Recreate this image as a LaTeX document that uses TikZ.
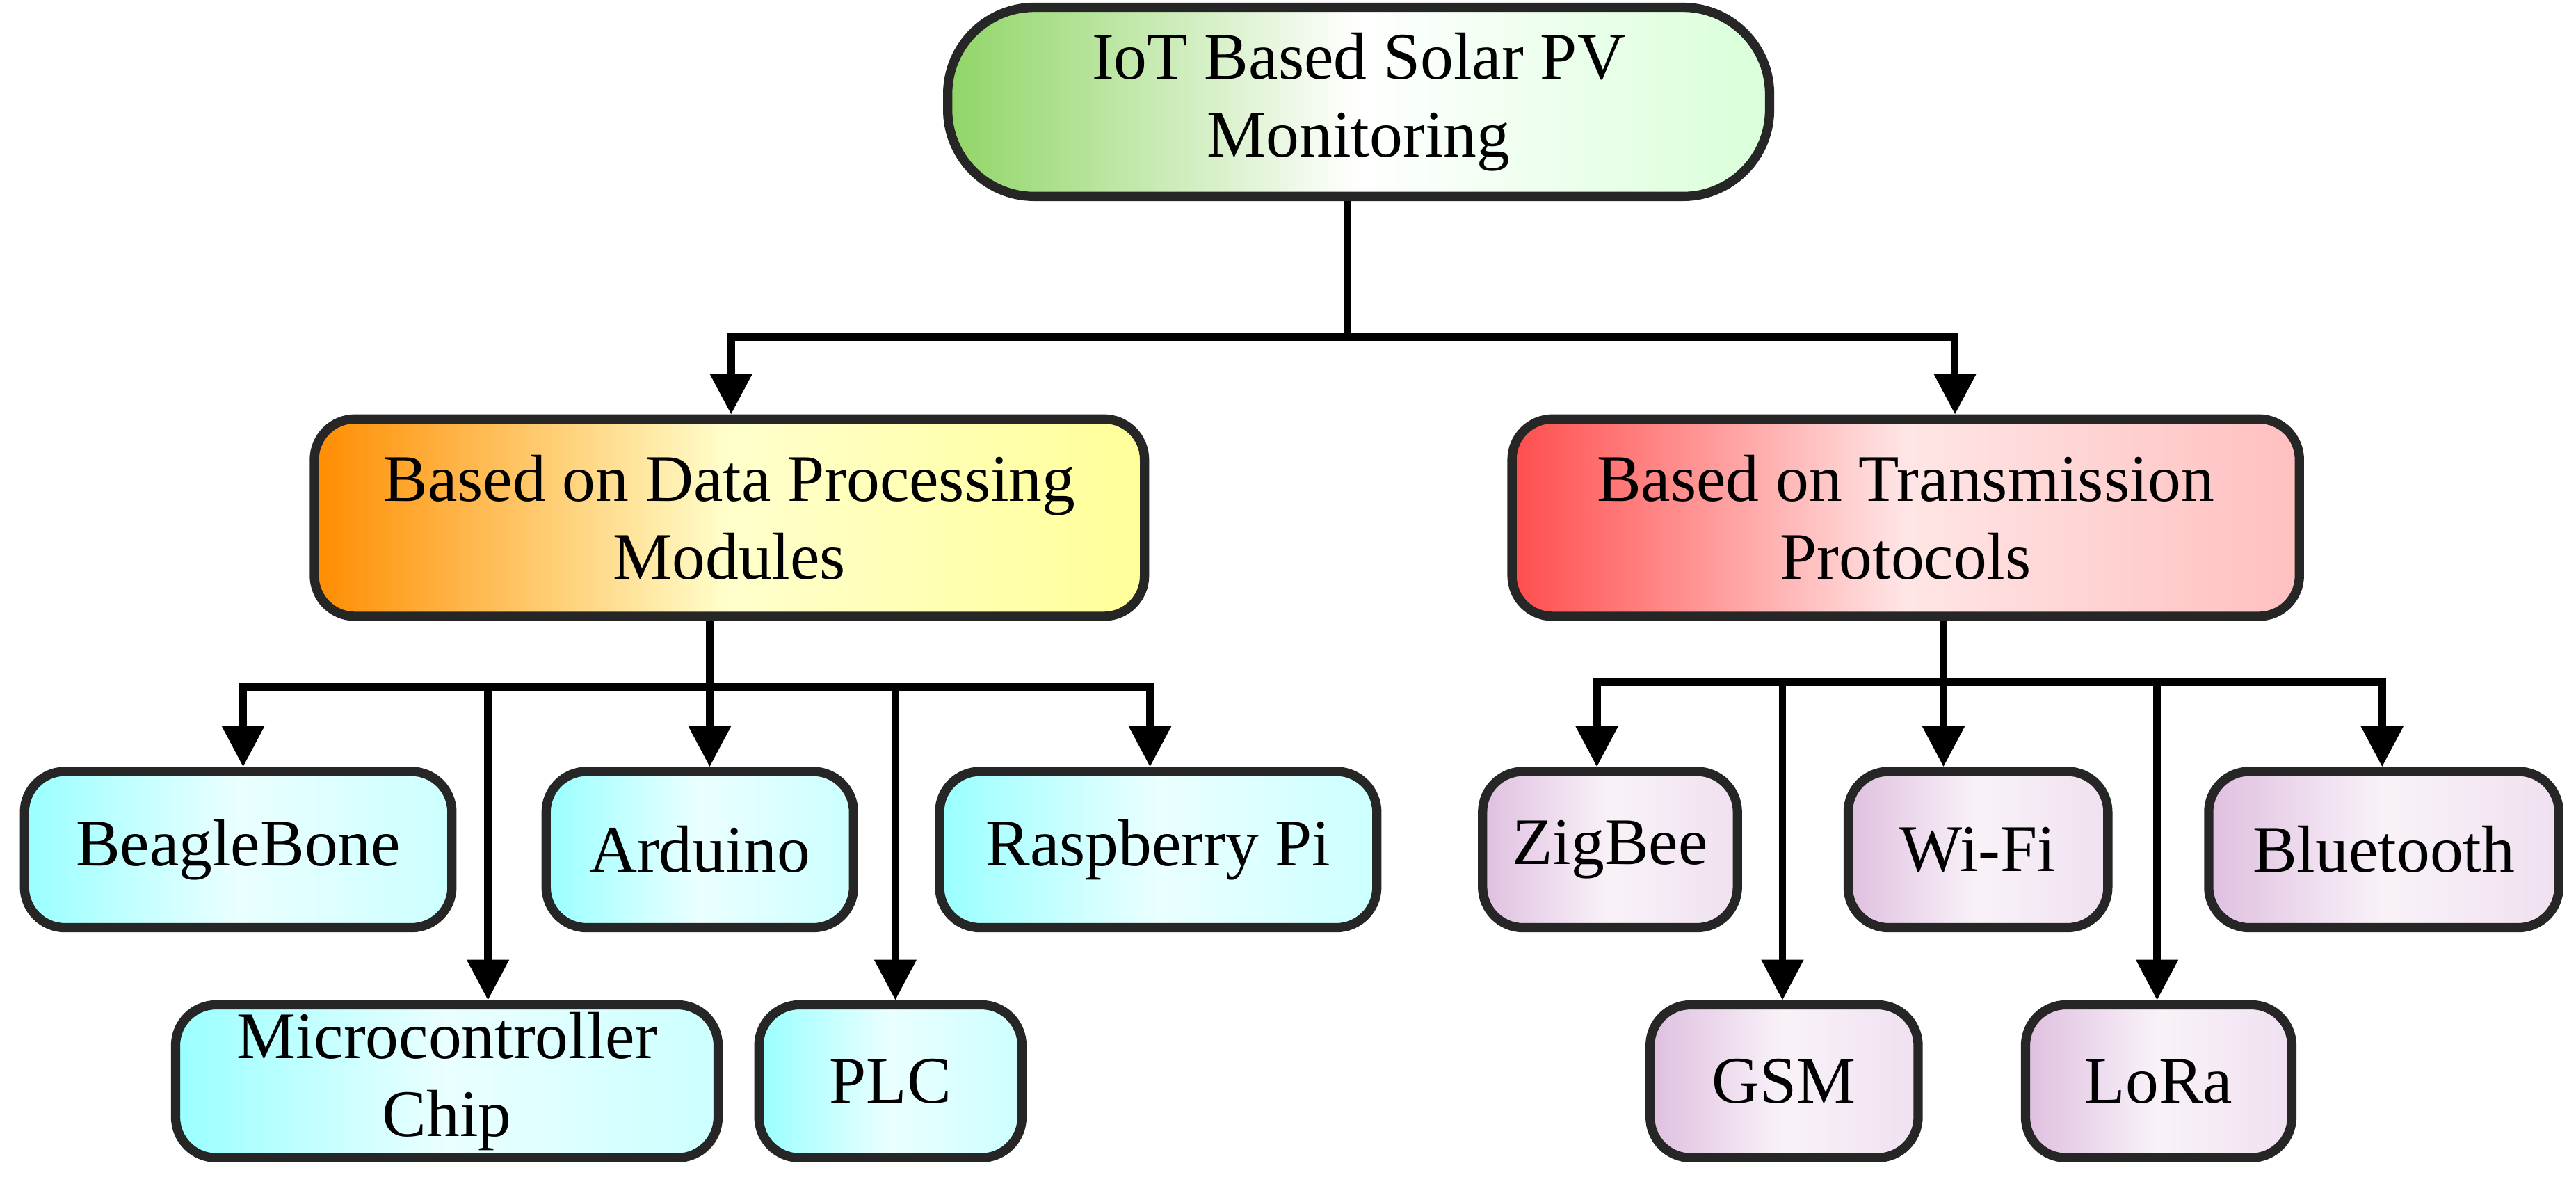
\documentclass[tikz,border=0pt]{standalone}
\usepackage{fontspec}
\setmainfont{Liberation Serif}
\usetikzlibrary{arrows.meta}
\begin{document}
\begin{tikzpicture}[x=0.01cm,y=-0.01cm,
 bx/.style={draw=black!85,line width=1.6pt,rounded corners=7pt,inner sep=0pt,align=center,
   font=\fontsize{11.5}{13.5}\selectfont},
 green/.style={bx,left color=green!45!olive!60,right color=green!15,middle color=white},
 orange/.style={bx,left color=orange!90!yellow,right color=yellow!40,middle color=yellow!20},
 red/.style={bx,left color=red!70,right color=red!25,middle color=red!10},
 blue/.style={bx,left color=cyan!40,right color=cyan!20,middle color=cyan!8},
 purple/.style={bx,left color=violet!25,right color=violet!12,middle color=violet!5},
 ln/.style={line width=1.3pt},
 ar/.style={ln,-{Triangle[length=7pt,width=7pt]}}]
\useasboundingbox (0,0) rectangle (1568,730);
\node[green,rounded corners=15pt,minimum width=5.00cm,minimum height=1.15cm] (top) at (827,62) {IoT Based Solar PV\\Monitoring};
\node[orange,minimum width=5.05cm,minimum height=1.20cm] (dp) at (444,315) {Based on Data Processing\\Modules};
\node[red,minimum width=4.79cm,minimum height=1.20cm] (tp) at (1160,315) {Based on Transmission\\Protocols};
\node[blue,minimum width=2.60cm,minimum height=0.95cm] (bb) at (145,517) {BeagleBone};
\node[blue,minimum width=1.87cm,minimum height=0.95cm] (ar) at (426,517) {Arduino};
\node[blue,minimum width=2.66cm,minimum height=0.95cm] (rp) at (705,517) {Raspberry Pi};
\node[blue,minimum width=3.30cm,minimum height=0.93cm] (mc) at (272,658) {Microcontroller\\Chip};
\node[blue,minimum width=1.60cm,minimum height=0.93cm] (plc) at (542,658) {PLC};
\node[purple,minimum width=1.55cm,minimum height=0.95cm] (zb) at (980,517) {ZigBee};
\node[purple,minimum width=1.58cm,minimum height=0.95cm] (wf) at (1204,517) {Wi-Fi};
\node[purple,minimum width=2.13cm,minimum height=0.95cm] (bt) at (1451,517) {Bluetooth};
\node[purple,minimum width=1.63cm,minimum height=0.93cm] (gsm) at (1086,658) {GSM};
\node[purple,minimum width=1.62cm,minimum height=0.93cm] (lr) at (1314,658) {LoRa};
\coordinate (t1) at (820,205);
\coordinate (l1) at (432,418);
\coordinate (r1) at (1183,415);
\draw[ln] (top.south -| t1) -- (t1);
\draw[ar] (t1) -| (dp.north -| 445,0);
\draw[ar] (t1) -| (tp.north -| 1190,0);
\draw[ln] (dp.south -| l1) -- (l1);
\draw[ar] (l1) -| (bb.north -| 148,0);
\draw[ar] (l1) -- (ar.north -| l1);
\draw[ar] (l1) -| (rp.north -| 700,0);
\draw[ar] (297,418) -- (mc.north -| 297,0);
\draw[ar] (545,418) -- (plc.north -| 545,0);
\draw[ln] (tp.south -| r1) -- (r1);
\draw[ar] (r1) -| (zb.north -| 972,0);
\draw[ar] (r1) -- (wf.north -| r1);
\draw[ar] (r1) -| (bt.north -| 1450,0);
\draw[ar] (1085,415) -- (gsm.north -| 1085,0);
\draw[ar] (1313,415) -- (lr.north -| 1313,0);
\end{tikzpicture}
\end{document}
